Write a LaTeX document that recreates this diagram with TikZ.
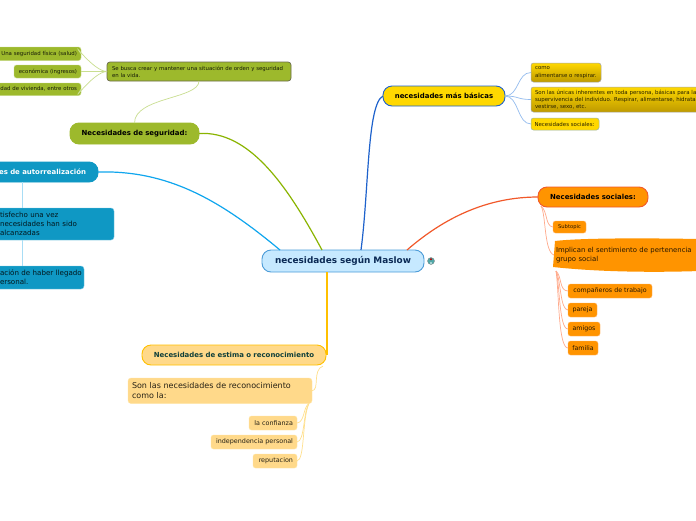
\documentclass[tikz,border=0pt]{standalone}
\usepackage{fontspec}
\setmainfont{DejaVu Sans}
\newcommand{\bx}[8][]{%
  \pgfmathsetmacro{\bxw}{#4-(#2)}%
  \pgfmathsetmacro{\bxh}{#5-(#3)}%
  \pgfmathsetmacro{\bxt}{#4-(#2)-2*#6}%
  \pgfmathsetmacro{\bxcx}{(#2+#4)/2}%
  \pgfmathsetmacro{\bxcy}{(#3+#5)/2}%
  \node[boxbase,#1,minimum width=\bxw pt,minimum height=\bxh pt,inner xsep=#6pt,text width=\bxt pt]
  (#7) at (\bxcx,\bxcy) {#8};}
\newcommand{\fs}[1]{\fontsize{#1pt}{\dimexpr #1pt*130/100\relax}\selectfont}
\definecolor{grn}{HTML}{9DB92C}
\definecolor{grnline}{HTML}{8AB400}
\definecolor{grnlite}{HTML}{C9DE90}
\definecolor{cyanb}{HTML}{0F98C4}
\definecolor{cyanl}{HTML}{10A6EE}
\definecolor{cyanlite}{HTML}{A8DDF5}
\definecolor{gold}{HTML}{FFD800}
\definecolor{bluel}{HTML}{1E62CC}
\definecolor{bluelite}{HTML}{93BBEE}
\definecolor{org}{HTML}{FF9400}
\definecolor{redl}{HTML}{F1582A}
\definecolor{salmon}{HTML}{FFAA8C}
\definecolor{cream}{HTML}{FFD98A}
\definecolor{amber}{HTML}{FFC000}
\definecolor{creamlite}{HTML}{FFE6A6}
\definecolor{HTMLroot}{HTML}{C6E9FF}
\definecolor{HTMLrootb}{HTML}{4C9CD8}
\definecolor{HTMLnavy}{HTML}{0B2A55}
\definecolor{HTMLgoldd}{HTML}{BE9A00}
\definecolor{HTMLorgl}{HTML}{FFB060}
\definecolor{HTMLdk}{HTML}{6A6A4A}
\definecolor{HTMLgb}{HTML}{9DB8A8}
\definecolor{HTMLteal}{HTML}{0F3F3A}
\definecolor{HTMLic}{HTML}{4FA8A8}
\tikzset{
  boxbase/.style={inner ysep=0pt,outer sep=0pt,align=left,font=\fs{5.4}},
  rootbox/.style={fill=HTMLroot,draw=HTMLrootb,line width=0.9pt,rounded corners=9pt,align=center,text=HTMLnavy,font=\bfseries\fs{8.9}},
  mainbox/.style={rounded corners=9pt,align=center,line width=0.9pt,font=\bfseries\fs{6.95}},
  leafgrn/.style={fill=grn,draw=grnlite,line width=0.4pt,rounded corners=2.5pt,text=black!85!grn,font=\fs{5.4}},
  leafcy/.style={fill=cyanb,draw=cyanlite!70!cyanb,line width=0.4pt,rounded corners=3pt,text=black!85!cyanb,font=\fs{7.1}},
  goldbox/.style={top color=gold,bottom color=HTMLgoldd,draw=gray!70,line width=0.5pt,rounded corners=2.5pt,text=black!85!gold,font=\fs{5.45}},
  leaforg/.style={fill=org,draw=HTMLorgl,line width=0.4pt,rounded corners=2.5pt,text=black!85!org,font=\fs{6.3},align=center},
  leafcr/.style={fill=cream,draw=creamlite,line width=0.4pt,rounded corners=2.5pt,text=black!85!cream,font=\fs{6.4},align=right},
  rootlink/.style={line width=1.2pt},
  sublink/.style={line width=0.7pt},
}
\begin{document}
\begin{tikzpicture}[x=1pt,y=-1pt]
\useasboundingbox (0,0) rectangle (696,520);
\fill[white] (0,0) rectangle (696,520);
% blob behind the orange node
\fill[org] (555,241) .. controls (580,238) and (640,238) .. (700,239) -- (700,271)
  .. controls (640,273) and (590,271) .. (553,267) -- cycle;
% nodes
\bx[rootbox]{262}{250}{424}{272}{4}{root}{necesidades según Maslow}
\bx[mainbox,fill=grn,draw=grn,text=black]{70}{123}{199}{144}{4}{seg}{Necesidades de seguridad:}
\bx[leafgrn,draw=HTMLdk,rounded corners=3pt,line width=0.7pt]{107}{62}{291}{81}{5}{busca}{Se busca crear y mantener una situación de orden y seguridad\\en la vida.}
\bx[leafgrn,align=right]{-10}{47}{81}{60.5}{4}{salud}{Una seguridad física (salud)}
\bx[leafgrn,align=right]{14}{65}{81}{78}{4}{ingr}{económica (ingresos)}
\bx[leafgrn,align=right]{-10}{83}{81}{95.5}{4}{viv}{dad de vivienda, entre otros}
\bx[mainbox,fill=cyanb,draw=cyanb,text=white,align=right]{-30}{162}{98}{182}{12}{auto}{es de autorrealización}
\bx[leafcy]{-4}{208}{114}{240}{4}{sat}{tisfecho una vez\\necesidades han sido\\alcanzadas}
\bx[leafcy]{-4}{266}{84}{289}{4}{per}{\mbox{ación de haber llegado}\\ersonal.}
\bx[mainbox,fill=gold,draw=bluel,text=black]{383}{86}{505}{106}{4}{bas}{necesidades más básicas}
\bx[goldbox]{531}{63}{601}{82}{4}{como}{como\\\mbox{alimentarse o respirar.}}
\bx[goldbox]{531}{87}{760}{112}{4}{inh}{Son las únicas inherentes en toda persona, básicas para la\\supervivencia del individuo. Respirar, alimentarse, hidrata\\vestirse, sexo, etc.}
\bx[goldbox,top color=gold,bottom color=gold,draw=HTMLgb]{531}{118}{599}{130}{3.5}{soc}{Necesidades sociales:}
\bx[mainbox,fill=org,draw=redl,text=black]{538}{187}{648}{207}{4}{socm}{Necesidades sociales:}
\bx[leaforg,font=\fs{5.2}]{553}{221}{586}{233}{2}{sub}{Subtopic}
\node[boxbase,font=\fs{6.9},text=black!85!org,anchor=west,inner xsep=0pt,text width=140pt] (imp) at (556,255) {Implican el sentimiento de pertenencia\\grupo social};
\bx[leaforg]{568}{284}{652}{298}{2}{comp}{compañeros de trabajo}
\bx[leaforg]{568}{303}{597}{317}{2}{par}{pareja}
\bx[leaforg]{568}{322}{600}{336}{2}{ami}{amigos}
\bx[leaforg]{568}{341}{598}{355}{2}{fam}{familia}
\bx[mainbox,fill=cream,draw=amber,text=HTMLteal]{142}{345}{326}{365}{4}{est}{Necesidades de estima o reconocimiento}
\bx[leafcr,align=left,rounded corners=3pt,font=\fontsize{8pt}{9.8pt}\selectfont]{128}{378}{312}{403.5}{4}{rec}{Son las necesidades de reconocimiento\\como la:}
\bx[leafcr]{249}{416}{297}{430}{4}{conf}{la confianza}
\bx[leafcr]{211}{435}{297}{449}{4}{ind}{independencia personal}
\bx[leafcr]{253}{454}{297}{468}{4}{rep}{reputacion}
% icon
\node[circle,fill=HTMLic,draw=gray,line width=0.3pt,minimum size=7pt,inner sep=0pt] (icon) at (431,261) {};
\fill[red!75!black] (431,259.2) circle (1.1pt);
\fill[white] (431,263) circle (0.9pt);
% main connectors
\draw[rootlink,grnline] ([xshift=-21pt]root.north) .. controls +(-35,-65) and +(50,-3) .. (seg.east);
\draw[rootlink,cyanl] ([xshift=-63pt]root.north) .. controls +(-60,-50) and +(70,-2) .. (auto.east);
\draw[rootlink,bluel] ([xshift=18pt]root.north) .. controls +(8,-60) and +(-16,8) .. (bas.west);
\draw[rootlink,redl] ([xshift=64pt]root.north) .. controls +(38,-33) and +(-50,0) .. (socm.west);
\draw[rootlink,amber] ([xshift=-16pt]root.south) -- ([xshift=1pt]est.east);
% secondary connectors
\begin{scope}[sublink,grnlite]
\draw (seg.north) .. controls +(0,-26) and +(0,18) .. (busca.south);
\draw (busca.west) .. controls +(-14,0) and +(-12,-17) .. (salud.east);
\draw (busca.west) -- (ingr.east);
\draw (busca.west) .. controls +(-14,0) and +(-12,18) .. (viv.east);
\end{scope}
\begin{scope}[sublink,cyanlite]
\draw ([xshift=-11.5pt]auto.south) -- ([xshift=-32.5pt]sat.north);
\draw ([xshift=-32.5pt]sat.south) -- ([xshift=-17.5pt]per.north);
\end{scope}
\begin{scope}[sublink,bluelite]
\draw (bas.east) .. controls +(14,0) and +(-14,0) .. (como.west);
\draw (bas.east) .. controls +(14,0) and +(-14,0) .. (inh.west);
\draw (bas.east) .. controls +(14,0) and +(-14,0) .. (soc.west);
\end{scope}
\coordinate (socbase) at (541,206);
\coordinate (impbase) at (556,271);
\coordinate (impleft) at (554,255);
\begin{scope}[sublink,salmon]
\draw (socbase) .. controls (548,212) and (545,226) .. (sub.west);
\draw (socbase) .. controls (546,214) and (544,252) .. (impleft);
\draw (impbase) .. controls (562,276) and (559,291) .. (comp.west);
\draw (impbase) .. controls (561,280) and (560,310) .. (par.west);
\draw (impbase) .. controls (560,285) and (559,329) .. (ami.west);
\draw (impbase) .. controls (559,290) and (558,348) .. (fam.west);
\end{scope}
\coordinate (estbase) at (323,366);
\coordinate (recbase) at (309,403.5);
\begin{scope}[sublink,creamlite!85!amber]
\draw (estbase) .. controls (312,370) and (320,390) .. (rec.east);
\draw (recbase) .. controls (303,407) and (305,422) .. (conf.east);
\draw (recbase) .. controls (303,412) and (305,441) .. (ind.east);
\draw (recbase) .. controls (302,418) and (305,460) .. (rep.east);
\end{scope}
\end{tikzpicture}
\end{document}
